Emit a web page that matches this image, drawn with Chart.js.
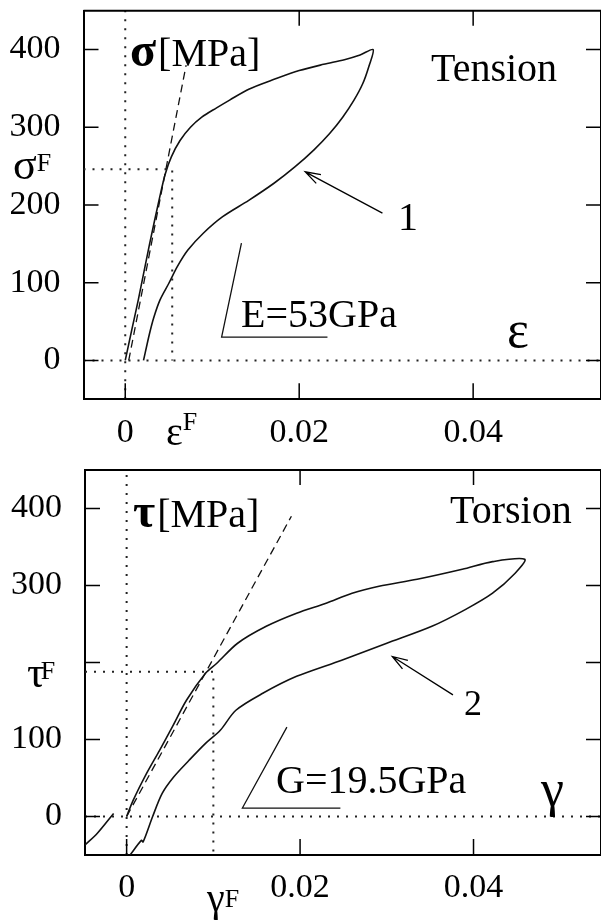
<!DOCTYPE html>
<html>
<head>
<meta charset="utf-8">
<script src="https://cdn.jsdelivr.net/npm/chart.js@4.4.1/dist/chart.umd.min.js"></script>
<style>
  html, body { margin: 0; padding: 0; background: #fff; overflow: hidden; }
  canvas { display: block; }
</style>
</head>
<body>
<canvas id="tensionChart" width="601" height="462"></canvas>
<canvas id="torsionChart" width="601" height="462"></canvas>
<script>
const xTicks = [0, 0.02, 0.04];
const yTicks = [0, 100, 200, 300, 400];
const tensionYLabels = ['0', '100', '200', '300', '400'];
const torsionYLabels = ['0', '100', '', '300', '400']; // tau^F sits where 200 would be
const xRange = [-0.0048, 0.0547];
const yRange = [-50, 450];

// curve 1 (tension): loading branch then unloading branch
const tensionStrain = [0, 0.0008, 0.0015, 0.0028, 0.004, 0.0046, 0.0053, 0.0063, 0.0075, 0.0088, 0.0105, 0.012, 0.0142, 0.0172, 0.02, 0.0228, 0.0252, 0.027, 0.0285,
  0.028, 0.0273, 0.0263, 0.025, 0.0235, 0.0217, 0.0195, 0.0171, 0.0142, 0.0112, 0.009, 0.0072, 0.006, 0.005, 0.004, 0.0033, 0.0028, 0.0021];
const tensionStress = [0, 42, 78, 150, 212, 240, 262, 283, 300, 313, 325, 335, 349, 362, 373, 381, 387, 393, 400,
  378, 356, 335, 313, 292, 271, 249, 228, 206, 185, 164, 142, 121, 99, 78, 56, 35, 0];

// curve 2 (torsion)
const torsionStrain = [0, 0.00075, 0.0023, 0.0038, 0.0053, 0.0069, 0.0091, 0.0104, 0.0128, 0.0161, 0.0196, 0.023, 0.026, 0.0291, 0.0335, 0.0387, 0.0422, 0.0459,
  0.0448, 0.0422, 0.0391, 0.0352, 0.03, 0.0248, 0.0196, 0.0157, 0.0126, 0.0108, 0.0091, 0.0072, 0.0054, 0.0041, 0.003, 0.0019, 0.0017, 0.0004];
const torsionStress = [0, 21, 56, 86, 117, 151, 186, 199, 225, 247, 264, 277, 290, 299, 308, 321, 331, 334,
  316, 290, 269, 247, 225, 203, 182, 160, 138, 112, 95, 73, 51, 30, 0, -33, -31, -50];
// tail of the previous cycle at the lower left
const torsionTailStrain = [-0.0048, -0.0034, -0.0015];
const torsionTailStress = [-37, -22, 4];

// elastic moduli, fracture-onset points
const tensionFit = { x: [0.0004, 0.007], y: [0, 380] };
const torsionFit = { x: [0, 0.019], y: [0, 390] };
const epsF = 0.0054, sigmaF = 246;
const gammaF = 0.0100, tauF = 188;
const tensionSlope = { x: [0.01336, 0.01108, 0.02325], y: [151, 30, 30] };
const torsionSlope = { x: [0.01848, 0.01335, 0.02465], y: [116, 11, 11] };

const serif = '"Liberation Serif", "Times New Roman", serif';
const pts = (xs, ys) => xs.map((v, i) => ({ x: v, y: ys[i] }));

function line(data, extra) {
  return Object.assign({
    data: data,
    showLine: true,
    pointRadius: 0,
    borderColor: '#111',
    borderWidth: 1.6,
    tension: 0,
    fill: false
  }, extra || {});
}
const dotted = { borderDash: [2, 7], borderWidth: 2, borderColor: '#222' };
const dashed = { borderDash: [8, 5], borderWidth: 1.3 };
const curve = { tension: 0.3 };

function drawParts(ctx, x, y, parts) {
  let cx = x;
  parts.forEach(p => {
    ctx.font = p.font;
    ctx.fillText(p.t, cx + (p.dx || 0), y + (p.dy || 0));
    cx += ctx.measureText(p.t).width + (p.dx || 0);
  });
}

const extras = {
  id: 'extras',
  afterDatasetsDraw(chart, args, opts) {
    const { ctx, chartArea: a, scales: { x, y } } = chart;
    ctx.save();
    ctx.strokeStyle = '#000';
    ctx.lineWidth = 2;
    ctx.beginPath();
    ctx.moveTo(a.left, a.top);
    ctx.lineTo(a.right, a.top);
    ctx.lineTo(a.right, a.bottom);
    ctx.stroke();

    ctx.lineWidth = 1.5;
    ctx.beginPath();
    y.ticks.forEach(t => {
      const py = y.getPixelForValue(t.value);
      ctx.moveTo(a.left, py); ctx.lineTo(a.left + 15, py);
      ctx.moveTo(a.right - 15, py); ctx.lineTo(a.right, py);
    });
    x.ticks.forEach(t => {
      const px = x.getPixelForValue(t.value);
      ctx.moveTo(px, a.bottom); ctx.lineTo(px, a.bottom - 16);
      if (t.value !== 0) { ctx.moveTo(px, a.top); ctx.lineTo(px, a.top + 15); }
    });
    ctx.stroke();

    // arrows
    ctx.lineWidth = 1.3;
    (opts.arrows || []).forEach(ar => {
      const x0 = x.getPixelForValue(ar.from[0]), y0 = y.getPixelForValue(ar.from[1]);
      const x1 = x.getPixelForValue(ar.to[0]), y1 = y.getPixelForValue(ar.to[1]);
      const ang = Math.atan2(y1 - y0, x1 - x0);
      ctx.beginPath();
      ctx.moveTo(x0, y0); ctx.lineTo(x1, y1);
      ctx.moveTo(x1 - 16 * Math.cos(ang - 0.32), y1 - 16 * Math.sin(ang - 0.32));
      ctx.lineTo(x1, y1);
      ctx.lineTo(x1 - 16 * Math.cos(ang + 0.32), y1 - 16 * Math.sin(ang + 0.32));
      ctx.stroke();
    });

    ctx.fillStyle = '#000';
    ctx.textBaseline = 'alphabetic';
    ctx.textAlign = 'left';
    (opts.notes || []).forEach(n => drawParts(ctx, n.x, n.y, n.parts));
    ctx.restore();
  }
};

function makeOptions(top, left, axisH, yLabels, notes, arrows) {
  return {
    responsive: false,
    animation: false,
    devicePixelRatio: 1,
    layout: { padding: { top: top, right: 0, left: 0, bottom: 0 } },
    plugins: {
      legend: { display: false },
      tooltip: { enabled: false },
      extras: { notes: notes, arrows: arrows }
    },
    scales: {
      x: {
        type: 'linear',
        min: xRange[0],
        max: xRange[1],
        afterBuildTicks: s => { s.ticks = xTicks.map(v => ({ value: v })); },
        afterFit: s => { s.height = axisH; s.paddingLeft = 0; s.paddingRight = 0; },
        grid: { drawOnChartArea: false, drawTicks: false },
        border: { display: true, color: '#000', width: 2 },
        ticks: {
          padding: 13,
          color: '#000',
          font: { family: serif, size: 34 },
          maxRotation: 0,
          callback: v => String(v)
        }
      },
      y: {
        type: 'linear',
        min: yRange[0],
        max: yRange[1],
        afterBuildTicks: s => { s.ticks = yTicks.map(v => ({ value: v })); },
        afterFit: s => { s.width = left; s.paddingTop = 0; s.paddingBottom = 0; },
        grid: { drawOnChartArea: false, drawTicks: false },
        border: { display: true, color: '#000', width: 2 },
        ticks: {
          padding: 23,
          color: '#000',
          font: { family: serif, size: 34 },
          callback: (v, i) => yLabels[i]
        }
      }
    }
  };
}

const big = '40px ' + serif;
const sup = '26px ' + serif;

new Chart(document.getElementById('tensionChart'), {
  type: 'scatter',
  data: {
    datasets: [
      line(pts([0, 0], yRange), dotted),
      line(pts(xRange, [0, 0]), dotted),
      line(pts([xRange[0], epsF, epsF], [sigmaF, sigmaF, 0]), dotted),
      line(pts(tensionFit.x, tensionFit.y), dashed),
      line(pts(tensionSlope.x, tensionSlope.y), { borderWidth: 1.3 }),
      line(pts(tensionStrain, tensionStress), curve)
    ]
  },
  options: makeOptions(10.7, 83.5, 62.7, tensionYLabels, [
    { x: 130, y: 66, parts: [{ t: 'σ', font: 'bold 48px ' + serif }, { t: '[MPa]', font: big, dx: 2 }] },
    { x: 431, y: 81, parts: [{ t: 'Tension', font: big }] },
    { x: 241, y: 327, parts: [{ t: 'E=53GPa', font: big }] },
    { x: 507, y: 347, parts: [{ t: 'ε', font: '52px ' + serif }] },
    { x: 398, y: 230, parts: [{ t: '1', font: big }] },
    { x: 13, y: 179, parts: [{ t: 'σ', font: '44px ' + serif }, { t: 'F', font: sup, dy: -8 }] },
    { x: 166, y: 445, parts: [{ t: 'ε', font: big }, { t: 'F', font: sup, dy: -15 }] }
  ], [{ from: [0.02957, 189.6], to: [0.02069, 242.7] }]),
  plugins: [extras]
});

new Chart(document.getElementById('torsionChart'), {
  type: 'scatter',
  data: {
    datasets: [
      line(pts([0, 0], yRange), dotted),
      line(pts(xRange, [0, 0]), dotted),
      line(pts([xRange[0], gammaF, gammaF], [tauF, tauF, yRange[0]]), dotted),
      line(pts(torsionFit.x, torsionFit.y), dashed),
      line(pts(torsionSlope.x, torsionSlope.y), { borderWidth: 1.3 }),
      line(pts(torsionStrain, torsionStress), curve),
      line(pts(torsionTailStrain, torsionTailStress), curve)
    ]
  },
  options: makeOptions(8, 85, 69, torsionYLabels, [
    { x: 133, y: 65, parts: [{ t: 'τ', font: 'bold 48px ' + serif }, { t: '[MPa]', font: big, dx: 2 }] },
    { x: 450, y: 61, parts: [{ t: 'Torsion', font: big }] },
    { x: 276, y: 331, parts: [{ t: 'G=19.5GPa', font: big }] },
    { x: 541, y: 344, parts: [{ t: 'γ', font: '52px ' + serif }] },
    { x: 464, y: 253, parts: [{ t: '2', font: '36px ' + serif }] },
    { x: 27, y: 225, parts: [{ t: 'τ', font: '44px ' + serif }, { t: 'F', font: sup, dx: -4, dy: -8 }] },
    { x: 207, y: 449, parts: [{ t: 'γ', font: big }, { t: 'F', font: sup, dy: -4 }] }
  ], [{ from: [0.03763, 158], to: [0.03064, 207.8] }]),
  plugins: [extras]
});
</script>
</body>
</html>
